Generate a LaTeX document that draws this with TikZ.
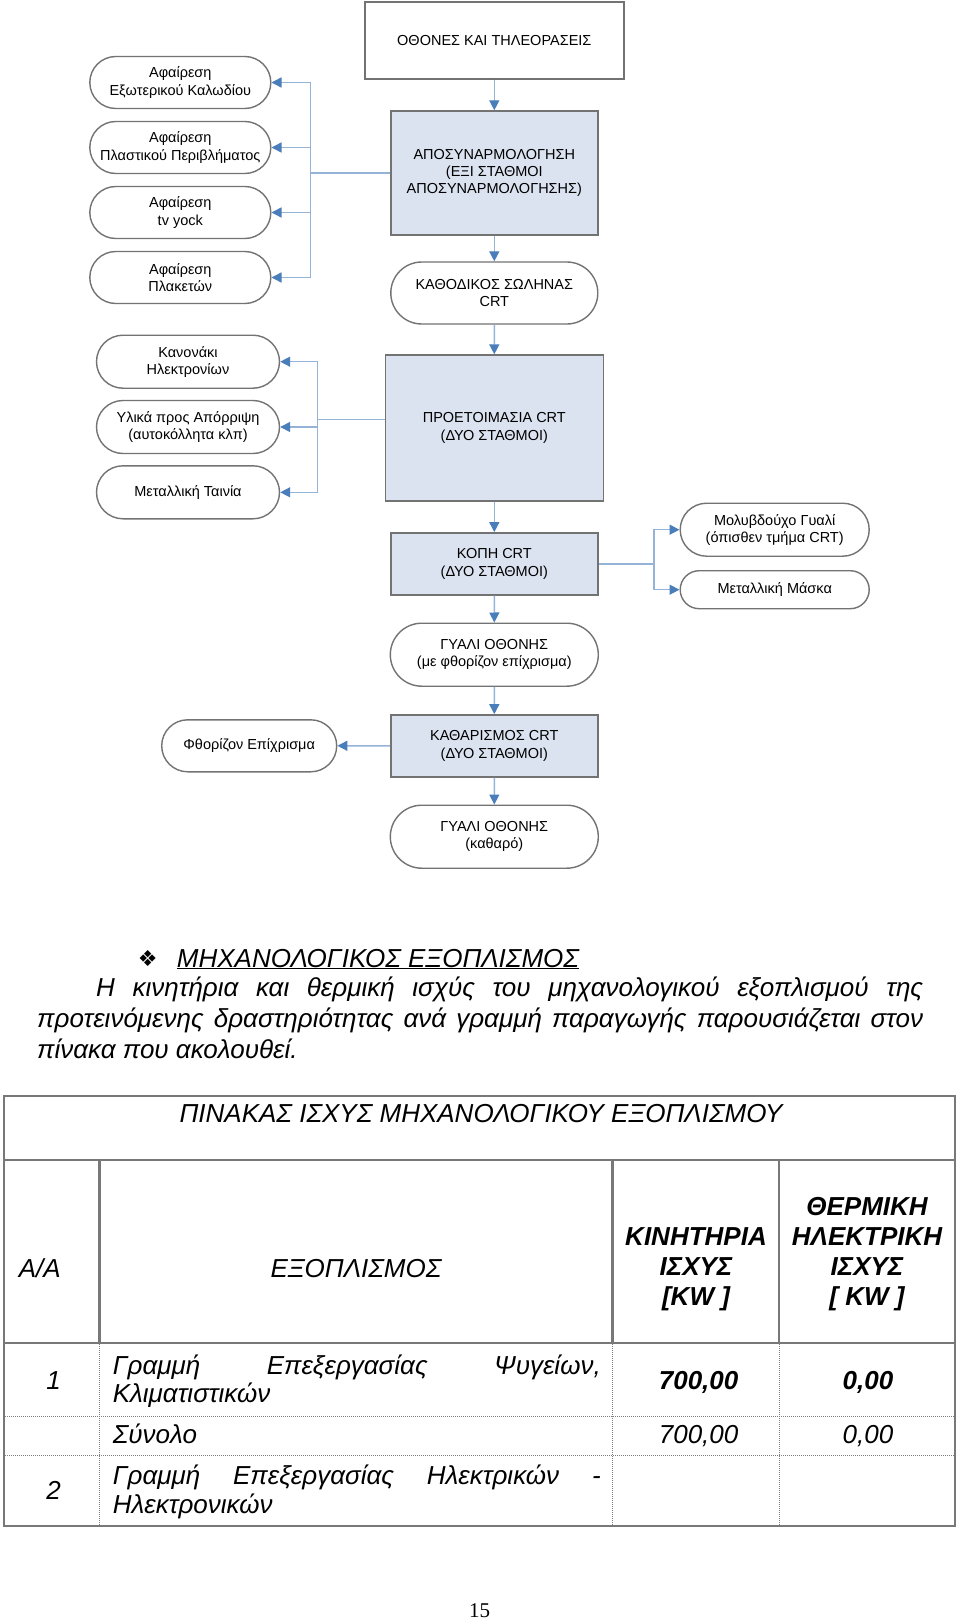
\documentclass[tikz,border=0pt]{standalone}
\usepackage{fontspec}
\setmainfont{Liberation Sans}
\newfontfamily\pagefont{Liberation Serif}
\newfontfamily\dingfont{DejaVu Sans}
\usetikzlibrary{arrows.meta,shapes.misc}
\definecolor{flowline}{RGB}{149,179,215}
\definecolor{flowtip}{RGB}{74,126,187}
\definecolor{stagefill}{RGB}{220,227,240}
\definecolor{boxedge}{RGB}{115,115,115}
\definecolor{tabedge}{RGB}{120,120,120}
\tikzset{
  plainbox/.style={draw=boxedge,line width=1.4pt,fill=white,align=center,inner sep=0pt,
    font=\fontsize{14.5}{17.3}\selectfont},
  stagebox/.style={plainbox,fill=stagefill},
  outbox/.style={plainbox,rounded rectangle},
  flow/.style={draw=flowline,line width=1.4pt,-{Triangle[length=10pt,width=10pt,color=flowtip]}},
  bus/.style={draw=flowline,line width=1.4pt},
  bodytext/.style={inner sep=0pt,font=\fontsize{26}{30}\selectfont\itshape},
  headtext/.style={inner sep=0pt,align=center,font=\fontsize{26}{30}\selectfont\bfseries\itshape},
  frame/.style={draw=tabedge,line width=2.4pt},
  dotrule/.style={draw=gray,line width=1pt,densely dotted}
}
\begin{document}
\begin{tikzpicture}[x=1pt,y=-1pt]
\pgfmathsetmacro{\midx}{494.3}
\fill[white] (0,0) rectangle (960,1621);
\useasboundingbox (0,0) rectangle (960,1621);
% main line
\node[plainbox,minimum width=259pt,minimum height=77pt] (screens) at (\midx,40.5) {ΟΘΟΝΕΣ ΚΑΙ ΤΗΛΕΟΡΑΣΕΙΣ};
\node[stagebox,minimum width=207pt,minimum height=124pt] (dis) at (\midx,173) {ΑΠΟΣΥΝΑΡΜΟΛΟΓΗΣΗ\\(ΕΞΙ ΣΤΑΘΜΟΙ\\ΑΠΟΣΥΝΑΡΜΟΛΟΓΗΣΗΣ)};
\node[outbox,minimum width=207pt,minimum height=62pt] (tube) at (\midx,293) {ΚΑΘΟΔΙΚΟΣ ΣΩΛΗΝΑΣ\\CRT};
\node[stagebox,minimum width=218pt,minimum height=146pt] (prep) at (\midx,428) {ΠΡΟΕΤΟΙΜΑΣΙΑ CRT\\(ΔΥΟ ΣΤΑΘΜΟΙ)};
\node[stagebox,minimum width=207pt,minimum height=62pt] (cut) at (\midx,563.8) {ΚΟΠΗ CRT\\(ΔΥΟ ΣΤΑΘΜΟΙ)};
\node[outbox,minimum width=208pt,minimum height=63pt] (glass) at (\midx,654.7) {ΓΥΑΛΙ ΟΘΟΝΗΣ\\(με φθορίζον επίχρισμα)};
\node[stagebox,minimum width=207pt,minimum height=62pt] (wash) at (\midx,745.8) {ΚΑΘΑΡΙΣΜΟΣ CRT\\(ΔΥΟ ΣΤΑΘΜΟΙ)};
\node[outbox,minimum width=208pt,minimum height=63pt] (clean) at (\midx,836.7) {ΓΥΑΛΙ ΟΘΟΝΗΣ\\(καθαρό)};
% side outputs
\node[outbox,minimum width=181pt,minimum height=52pt] (cable) at (180.3,82.5) {Αφαίρεση\\Εξωτερικού Καλωδίου};
\node[outbox,minimum width=181pt,minimum height=52pt] (casing) at (180.3,147.5) {Αφαίρεση\\Πλαστικού Περιβλήματος};
\node[outbox,minimum width=181pt,minimum height=52pt] (yoke) at (180.3,212.5) {Αφαίρεση\\tv yock};
\node[outbox,minimum width=181pt,minimum height=52pt] (boards) at (180.3,277.5) {Αφαίρεση\\Πλακετών};
\node[outbox,minimum width=183pt,minimum height=53pt] (gun) at (188,361.7) {Κανονάκι\\Ηλεκτρονίων};
\node[outbox,minimum width=183pt,minimum height=53pt] (waste) at (188,427) {Υλικά προς Απόρριψη\\(αυτοκόλλητα κλπ)};
\node[outbox,minimum width=183pt,minimum height=53pt] (band) at (188,492.3) {Μεταλλική Ταινία};
\node[outbox,minimum width=189pt,minimum height=53pt] (lead) at (774.7,529.7) {Μολυβδούχο Γυαλί\\(όπισθεν τμήμα CRT)};
\node[outbox,minimum width=189pt,minimum height=38pt] (mask) at (774.7,589.7) {Μεταλλική Μάσκα};
\node[outbox,minimum width=175pt,minimum height=52pt] (coat) at (249.2,745.8) {Φθορίζον Επίχρισμα};
\draw[flow] (screens) -- (dis);
\draw[flow] (dis) -- (tube);
\draw[flow] (tube) -- (prep);
\draw[flow] (prep) -- (cut);
\draw[flow] (cut) -- (glass);
\draw[flow] (glass) -- (wash);
\draw[flow] (wash) -- (clean);
\draw[flow] (wash) -- (coat);
\coordinate (busA) at (310.4,173);
\coordinate (busB) at (317.7,419.3);
\coordinate (busC) at (654,563.8);
\draw[bus] (dis.west) -- (busA);
\foreach \n in {cable,casing,yoke,boards} \draw[flow] (busA) |- (\n.east);
\draw[bus] (prep.west |- busB) -- (busB);
\foreach \n in {gun,waste,band} \draw[flow] (busB) |- (\n.east);
\draw[bus] (cut.east) -- (busC);
\foreach \n in {lead,mask} \draw[flow] (busC) |- (\n.west);
% text
\node[font=\dingfont\fontsize{22}{22}\selectfont,inner sep=0pt] (bullet) at (147.8,959) {❖};
\node[bodytext,anchor=base west] (heading) at (176.7,967) {\underline{ΜΗΧΑΝΟΛΟΓΙΚΟΣ ΕΞΟΠΛΙΣΜΟΣ}};
\node[bodytext,anchor=base west] (para1) at (96,996) {\makebox[827pt][s]{Η κινητήρια και θερμική ισχύς του μηχανολογικού εξοπλισμού της}};
\node[bodytext,anchor=base west] (para2) at (37,1027) {\makebox[886pt][s]{προτεινόμενης δραστηριότητας ανά γραμμή παραγωγής παρουσιάζεται στον}};
\node[bodytext,anchor=base west] (para3) at (37,1058) {πίνακα που ακολουθεί.};
% table
\draw[frame] (4,1096) rectangle (955,1526);
\draw[frame] (4,1160) -- (955,1160);
\draw[frame] (4,1343) -- (955,1343);
\foreach \cx in {99.5,612.5,779} \draw[frame] (\cx,1160) -- (\cx,1343);
\foreach \cx in {99.5,612.5,779} \draw[dotrule] (\cx,1344) -- (\cx,1525);
\foreach \ry in {1416,1455} \draw[dotrule] (5,\ry) -- (954,\ry);
\node[bodytext,anchor=base] (title) at (481,1122) {ΠΙΝΑΚΑΣ ΙΣΧΥΣ ΜΗΧΑΝΟΛΟΓΙΚΟΥ ΕΞΟΠΛΙΣΜΟΥ};
\node[bodytext,anchor=base west] (aa) at (18.6,1277) {Α/Α};
\node[bodytext,anchor=base] (equip) at (356,1277) {ΕΞΟΠΛΙΣΜΟΣ};
\node[headtext,anchor=north] (motor) at (696,1227.4) {ΚΙΝΗΤΗΡΙΑ\\ΙΣΧΥΣ\\{[KW ]}};
\node[headtext,anchor=north] (heat) at (867,1197) {ΘΕΡΜΙΚΗ\\ΗΛΕΚΤΡΙΚΗ\\ΙΣΧΥΣ\\{[ KW ]}};
\node[bodytext,anchor=base] (n1) at (53.7,1389) {1};
\node[bodytext,anchor=base west] (line1a) at (112.6,1374) {\makebox[488pt][s]{Γραμμή Επεξεργασίας Ψυγείων,}};
\node[bodytext,anchor=base west] (line1b) at (112.6,1402) {Κλιματιστικών};
\node[bodytext,anchor=base] (p1) at (698.6,1389) {\bfseries 700,00};
\node[bodytext,anchor=base] (q1) at (868,1389) {\bfseries 0,00};
\node[bodytext,anchor=base west] (total) at (112.6,1443) {Σύνολο};
\node[bodytext,anchor=base] (ptot) at (698.6,1443) {700,00};
\node[bodytext,anchor=base] (qtot) at (868,1443) {0,00};
\node[bodytext,anchor=base] (n2) at (53.7,1499) {2};
\node[bodytext,anchor=base west] (line2a) at (112.6,1484) {\makebox[488pt][s]{Γραμμή Επεξεργασίας Ηλεκτρικών -}};
\node[bodytext,anchor=base west] (line2b) at (112.6,1513) {Ηλεκτρονικών};
\node[font=\pagefont\fontsize{21}{21}\selectfont,inner sep=0pt,anchor=base] (page) at (479.5,1617) {15};
\end{tikzpicture}
\end{document}
